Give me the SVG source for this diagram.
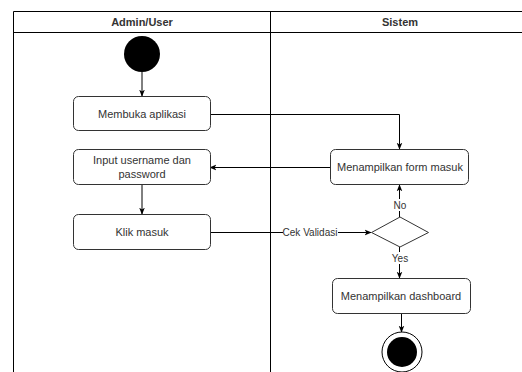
<svg xmlns="http://www.w3.org/2000/svg" width="522" height="372" viewBox="0 0 522 372">
<defs>
<marker id="arr" viewBox="0 0 10 10" refX="9" refY="5" markerWidth="7" markerHeight="7" orient="auto" markerUnits="userSpaceOnUse">
<path d="M0,1 L10,5 L0,9 L2.5,5 Z" fill="#000"/>
</marker>
</defs>
<style>
.lane{fill:none;stroke:#000;stroke-width:1}
.box{fill:#fff;stroke:#333;stroke-width:1}
.t{font-family:"Liberation Sans",Arial,sans-serif;font-size:11px;fill:#333;text-anchor:middle}
.h{font-family:"Liberation Sans",Arial,sans-serif;font-size:11px;font-weight:bold;fill:#333;text-anchor:middle}
.e{fill:none;stroke:#000;stroke-width:1;marker-end:url(#arr)}
.lbl{font-family:"Liberation Sans",Arial,sans-serif;font-size:10px;fill:#333;text-anchor:middle}
</style>
<rect width="522" height="372" fill="#fff"/>
<g id="swimlanes">
<path class="lane" d="M13.5,372 V11.5 H522"/>
<path class="lane" d="M13.5,32.5 H522"/>
<path class="lane" d="M270.5,11.5 V372"/>
<text class="h" x="142" y="26">Admin/User</text>
<text class="h" x="400" y="26">Sistem</text>
</g>
<g id="connectors">
<path class="e" d="M142,72 V96"/>
<path class="e" d="M210,114.5 H399.5 V149"/>
<path class="e" d="M330,167.5 H210"/>
<path class="e" d="M142,185 V214"/>
<path class="e" d="M210,232.5 H371"/>
<rect x="283" y="226" width="55" height="13" fill="#fff"/>
<text class="lbl" x="310" y="236">Cek Validasi</text>
<path class="e" d="M399.5,217 V185"/>
<rect x="392" y="199" width="15" height="12" fill="#fff"/>
<text class="lbl" x="400" y="209">No</text>
<path class="e" d="M399.5,247 V278"/>
<rect x="390" y="252" width="20" height="12" fill="#fff"/>
<text class="lbl" x="400" y="262">Yes</text>
<path class="e" d="M401.5,314 V332"/>
</g>
<g id="start"><circle cx="142" cy="54" r="18" fill="#000"/></g>
<g id="membuka"><rect class="box" x="73.5" y="96.5" width="137" height="34" rx="5"/><text class="t" x="142" y="118">Membuka aplikasi</text></g>
<g id="input"><rect class="box" x="73.5" y="149.5" width="137" height="35" rx="5"/><text class="t" x="142" y="164">Input username dan</text><text class="t" x="142" y="178">password</text></g>
<g id="klik"><rect class="box" x="73.5" y="214.5" width="137" height="35" rx="5"/><text class="t" x="142" y="236">Klik masuk</text></g>
<g id="form"><rect class="box" x="330.5" y="149.5" width="138" height="35" rx="5"/><text class="t" x="400" y="171">Menampilkan form masuk</text></g>
<g id="decision"><path d="M371.5,232.5 L400,217 L428.5,232.5 L400,247 Z" fill="#fff" stroke="#333"/></g>
<g id="dashboard"><rect class="box" x="332.5" y="278.5" width="138" height="35" rx="5"/><text class="t" x="401" y="300">Menampilkan dashboard</text></g>
<g id="end"><circle cx="402" cy="352" r="20" fill="#fff" stroke="#000"/><circle cx="402" cy="352" r="15" fill="#000"/></g>
</svg>
